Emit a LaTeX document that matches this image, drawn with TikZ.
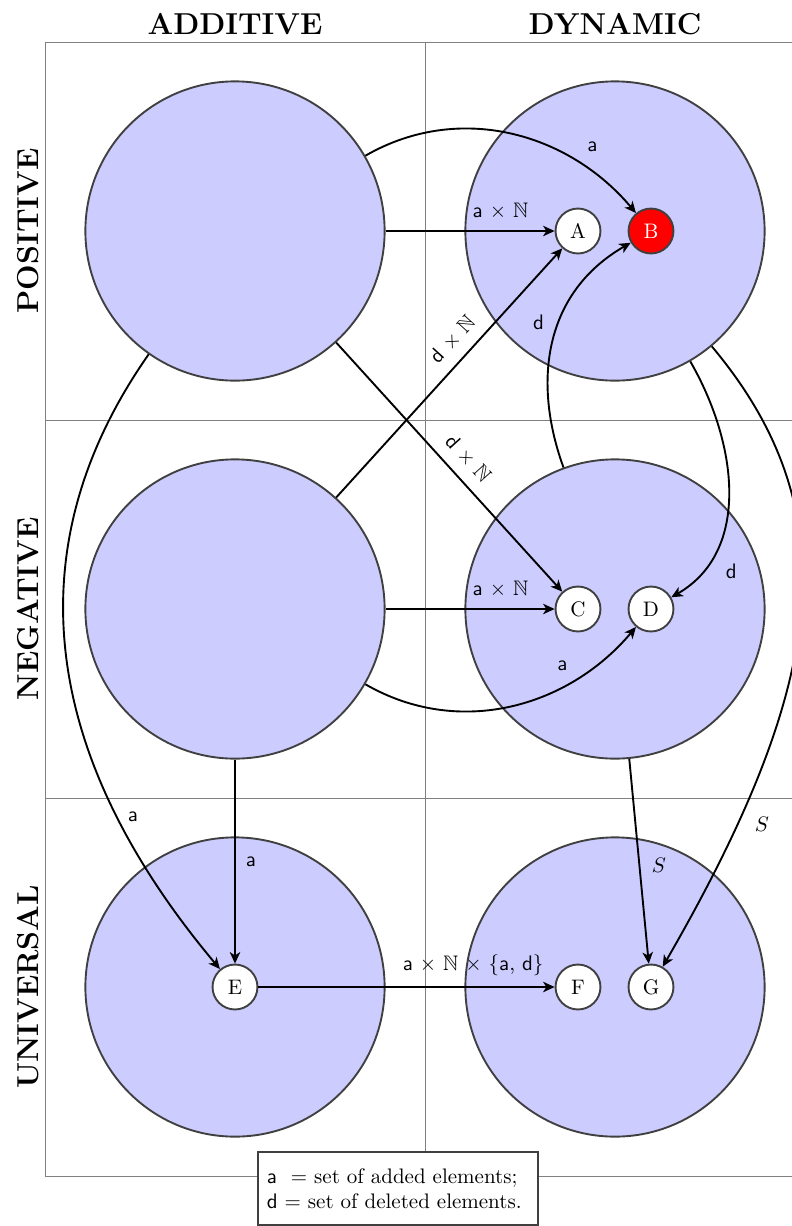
\documentclass[tikz,border=0pt]{standalone}
\usepackage{amssymb}
\usetikzlibrary{arrows.meta}
\begin{document}
\begin{tikzpicture}[x=0.47619pt, y=0.47619pt,
  bigc/.style={circle, fill=blue!20, draw=black!75, line width=0.9pt, minimum size=142.5pt, inner sep=0pt},
  smallc/.style={circle, fill=white, draw=black!75, line width=0.9pt, minimum size=21.4pt, inner sep=0pt},
  conn/.style={-{Stealth[length=5.5pt,width=5pt,inset=1.6pt]}, line width=0.9pt, black},
  lab/.style={font=\normalsize, inner sep=1pt},
  hdr/.style={font=\Large\bfseries, inner sep=0pt},
  gridline/.style={gray, line width=0.45pt}]
\useasboundingbox (0,0) rectangle (792,-1226);
\clip (0,0) rectangle (792,-1226);
% grid
\draw[gridline] (45,-42) -- (805,-42);
\draw[gridline] (45,-420) -- (805,-420);
\draw[gridline] (45,-798) -- (805,-798);
\draw[gridline] (45,-1176) -- (805,-1176);
\draw[gridline] (45,-42) -- (45,-1176);
\draw[gridline] (425,-42) -- (425,-1176);
\draw[gridline] (805,-42) -- (805,-1176);
% headers
\node[hdr] (hadd) at (235,-24) {ADDITIVE};
\node[hdr] (hdyn) at (615,-24) {DYNAMIC};
\node[hdr, rotate=90] (hpos) at (28,-231) {POSITIVE};
\node[hdr, rotate=90] (hneg) at (28,-609) {NEGATIVE};
\node[hdr, rotate=90] (huni) at (28,-987) {UNIVERSAL};
% big circles
\node[bigc] (TL) at (235,-231) {};
\node[bigc] (TR) at (615,-231) {};
\node[bigc] (ML) at (235,-609) {};
\node[bigc] (MR) at (615,-609) {};
\node[bigc] (BL) at (235,-987) {};
\node[bigc] (BR) at (615,-987) {};
% small circles
\node[smallc] (A) at (578,-231) {A};
\node[smallc, fill=red, text=white] (B) at (651,-231) {B};
\node[smallc] (C) at (578,-609) {C};
\node[smallc] (D) at (651,-609) {D};
\node[smallc] (E) at (235,-987) {E};
\node[smallc] (F) at (578,-987) {F};
\node[smallc] (G) at (651,-987) {G};
% straight connectors
\draw[conn] (TL) -- (A) node[lab, pos=0.68, above=4pt] (l1) {\textsf{a} $\times$ $\mathbb{N}$};
\draw[conn] (ML) -- (C) node[lab, pos=0.68, above=4pt] (l2) {\textsf{a} $\times$ $\mathbb{N}$};
\draw[conn] (TL) -- (C) node[lab, pos=0.52, sloped, above=4pt] (l3) {\textsf{d} $\times$ $\mathbb{N}$};
\draw[conn] (ML) -- (A) node[lab, pos=0.58, sloped, above=4pt] (l4) {\textsf{d} $\times$ $\mathbb{N}$};
\draw[conn] (ML) -- (E) node[lab, pos=0.5, right=3.7pt] (l5) {\textsf{a}};
\draw[conn] (MR) -- (G) node[lab, pos=0.52, right=4.5pt] (l6) {$S$};
\draw[conn] (E) -- (F) node[lab, pos=0.725, above=4pt] (l7) {\textsf{a} $\times$ $\mathbb{N}$ $\times$ $\{$\textsf{a}, \textsf{d}$\}$};
% curved connectors
\draw[conn] (TL.30) .. controls +(30:108) and +(130:105) .. (B.130)
  node[lab, pos=0.75, shift={(14,16)}] (l8) {\textsf{a}};
\draw[conn] (ML.-30) .. controls +(-30:108) and +(-130:105) .. (D.-130)
  node[lab, pos=0.7, shift={(-3,19)}] (l9) {\textsf{a}};
\draw[conn] (MR.110) .. controls +(110:91.5) and +(-150:100) .. (B.-150)
  node[lab, pos=0.6, shift={(-22,-3.5)}] (l10) {\textsf{d}};
\draw[conn] (TR.-60) .. controls +(-60:95) and +(30:92) .. (D.30)
  node[lab, pos=0.8, shift={(23,-8)}] (l11) {\textsf{d}};
\draw[conn] (TL.-125) .. controls +(-125:235) and +(130:280) .. (E.130)
  node[lab, pos=0.75, shift={(19,-7)}] (l12) {\textsf{a}};
\draw[conn] (TR.-50) .. controls +(-50:220) and +(60:320) .. (G.60)
  node[lab, pos=0.8, shift={(19,-12)}] (l13) {$S$};
% legend
\node[draw=black!75, line width=0.9pt, fill=white, text width=125pt, inner xsep=4pt, minimum height=34.8pt, align=left] (legend) at (398,-1188.5)
  {\textsf{a}\ \ $=$ set of added elements;\\ \textsf{d} $=$ set of deleted elements.};
\end{tikzpicture}
\end{document}
